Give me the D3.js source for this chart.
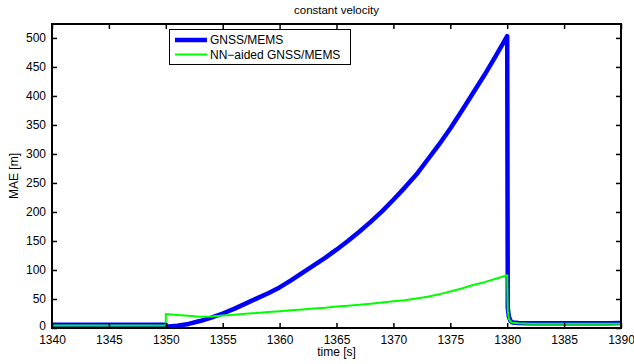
<!DOCTYPE html>
<html>
<head>
<meta charset="utf-8">
<script src="https://cdn.jsdelivr.net/npm/d3@7"></script>
<style>
  html, body { margin: 0; padding: 0; background: #fff; }
  svg { display: block; font-family: "Liberation Sans", Arial, Helvetica, sans-serif; }
</style>
</head>
<body>
<svg id="chart" width="634" height="364"></svg>
<script>
// ---- data ----
const timeS = [1340,1341,1342,1343,1344,1345,1346,1347,1348,1349,1350,1350,
  1351,1352,1353,1354,1355,1356,1357,1358,1359,1360,
  1361,1362,1363,1364,1365,1366,1367,1368,1369,1370,
  1371,1372,1373,1374,1375,1376,1377,1378,1379,1380,
  1380.05,1380.15,1380.3,1380.5,
  1381,1382,1383,1384,1385,1386,1387,1388,1389,1390];

const gnssMems = [5.5,5.5,5.5,5.5,5.5,5.5,5.5,5.5,5.5,5.5,5.5,2,
  4,7,12,18,25,33,42,51,60,70,
  82,95,108,121,135,150,166,183,201,221,
  242,264,290,316,344,374,405,436,469,503,
  35,19,12,9.5,
  8.5,8,8,8,8,8,8,8,8,8.5];

const nnAided = [4.5,4.5,4.5,4.5,4.5,4.5,4.5,4.5,4.5,4.5,4.5,24,
  22.5,21,19.5,20,21.5,23,24.5,26,27.5,29,
  30.5,32,33.5,35,37,38.5,40,42,44,46,
  48,51,54,58,63,68,74,79,85,91,
  30,16,11,9,
  8,7.5,7.5,7.5,7.5,7.5,7.5,7.5,7.5,7.5];

const xTicks = [1340,1345,1350,1355,1360,1365,1370,1375,1380,1385,1390];
const yTicks = [0,50,100,150,200,250,300,350,400,450,500];
const seriesNames = ["GNSS/MEMS", "NN\u2212aided GNSS/MEMS"];
const seriesColors = ["#0000ff", "#00ff00"];
const titleText = "constant velocity";
const xLabel = "time [s]";
const yLabel = "MAE [m]";

// ---- layout ----
const svg = d3.select("#chart");
const L = 52, R = 621, T = 24, B = 328;
const x = d3.scaleLinear().domain([1340, 1390]).range([L, R]);
const y = d3.scaleLinear().domain([0, 524]).range([B, T]);

svg.append("clipPath").attr("id", "clip")
  .append("rect").attr("x", L).attr("y", T).attr("width", R - L).attr("height", B - T);

const line = d3.line().x((d, i) => x(timeS[i])).y(d => y(d));

const plot = svg.append("g").attr("clip-path", "url(#clip)");
plot.append("path").datum(gnssMems)
  .attr("d", line).attr("fill", "none")
  .attr("stroke", seriesColors[0]).attr("stroke-width", 4.5)
  .attr("stroke-linejoin", "round");
plot.append("path").datum(nnAided)
  .attr("d", line).attr("fill", "none")
  .attr("stroke", seriesColors[1]).attr("stroke-width", 2)
  .attr("stroke-linejoin", "round");

// ---- axes ----
const fs = 12;
const axB = svg.append("g").attr("transform", `translate(0,${B})`)
  .call(d3.axisBottom(x).tickValues(xTicks).tickSize(-5).tickPadding(7).tickFormat(d3.format("d")));
const axT = svg.append("g").attr("transform", `translate(0,${T})`)
  .call(d3.axisTop(x).tickValues(xTicks).tickSize(-5).tickFormat(""));
const axL = svg.append("g").attr("transform", `translate(${L},0)`)
  .call(d3.axisLeft(y).tickValues(yTicks).tickSize(-5).tickPadding(6).tickFormat(d3.format("d")));
const axR = svg.append("g").attr("transform", `translate(${R},0)`)
  .call(d3.axisRight(y).tickValues(yTicks).tickSize(-5).tickFormat(""));

[axB, axT, axL, axR].forEach(g => {
  g.select(".domain").remove();
  g.selectAll(".tick line").attr("stroke", "#000").attr("stroke-width", 1.5);
  g.selectAll(".tick text").attr("font-size", fs).attr("fill", "#000")
    .attr("font-family", "'Liberation Sans', Arial, sans-serif");
});
// the "0" label sits a little higher, as in the reference
axL.selectAll(".tick").filter(d => d === 0).select("text").attr("dy", "0.1em");

// frame
svg.append("rect").attr("x", L).attr("y", T).attr("width", R - L).attr("height", B - T)
  .attr("fill", "none").attr("stroke", "#000").attr("stroke-width", 2);

// ---- titles ----
svg.append("text").attr("x", (L + R) / 2).attr("y", 14).attr("text-anchor", "middle")
  .attr("font-size", 11.5).text(titleText);
svg.append("text").attr("x", (L + R) / 2).attr("y", 356).attr("text-anchor", "middle")
  .attr("font-size", 12).text(xLabel);
svg.append("text").attr("transform", `translate(18,${(T + B) / 2}) rotate(-90)`)
  .attr("text-anchor", "middle").attr("font-size", 12).text(yLabel);

// ---- legend ----
const lg = svg.append("g");
lg.append("rect").attr("x", 169.5).attr("y", 29.5).attr("width", 181).attr("height", 35)
  .attr("fill", "#fff").attr("stroke", "#000").attr("stroke-width", 1);
const rows = [40, 54.5];
seriesNames.forEach((name, i) => {
  lg.append("line").attr("x1", 175).attr("x2", 207).attr("y1", rows[i]).attr("y2", rows[i])
    .attr("stroke", seriesColors[i]).attr("stroke-width", i === 0 ? 4.5 : 2);
  lg.append("text").attr("x", 210).attr("y", rows[i] + 4.3).attr("font-size", 12).text(name);
});
</script>
</body>
</html>
